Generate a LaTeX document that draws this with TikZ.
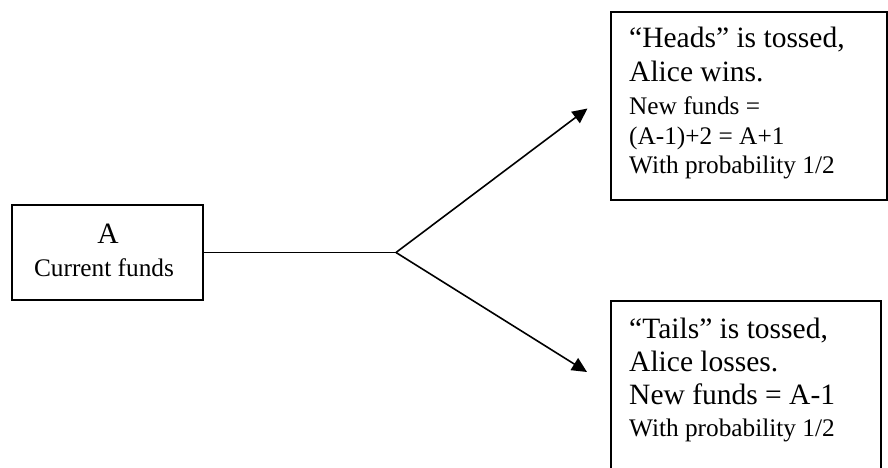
\documentclass[tikz,border=0pt]{standalone}
\usepackage{fontspec}
\setmainfont{Liberation Serif}
\usetikzlibrary{arrows.meta}
\begin{document}
\begin{tikzpicture}[x=1pt,y=-1pt,
  box/.style={draw, line width=2pt, rectangle, inner sep=0pt},
  big/.style={font=\fontsize{29.5}{33}\selectfont, inner sep=0pt},
  small/.style={font=\fontsize{25.3}{29}\selectfont, inner sep=0pt},
  link/.style={line width=1.6pt},
  branch/.style={link, -{Triangle[length=15pt,width=14pt]}}]
\useasboundingbox (0,0) rectangle (888,468);
\clip (0,0) rectangle (888,468);
\fill[white] (0,0) rectangle (888,468);

% starting state
\node[box, minimum width=191pt, minimum height=95pt] (cur) at (107.5,252.5) {};
\node[big, anchor=base] (curA) at (108,243) {A};
\node[small, anchor=base] (curtext) at (104,276) {Current funds};

% outcome: heads
\node[box, minimum width=276pt, minimum height=188pt] (heads) at (749,106) {};
\node[big, anchor=base west] (h1) at (629,48) {“Heads” is tossed,};
\node[big, anchor=base west] (h2) at (629,82) {Alice wins.};
\node[small, anchor=base west] (h3) at (629,114) {New funds =};
\node[small, anchor=base west] (h4) at (629,144) {(A-1)+2 = A+1};
\node[small, anchor=base west] (h5) at (629,173) {With probability 1/2};

% outcome: tails
\node[box, minimum width=270pt, minimum height=179pt] (tails) at (746,390.5) {};
\node[big, anchor=base west] (t1) at (629,338) {“Tails” is tossed,};
\node[big, anchor=base west] (t2) at (629,371) {Alice losses.};
\node[big, anchor=base west] (t3) at (629,404) {New funds = A-1};
\node[small, anchor=base west] (t4) at (629,436) {With probability 1/2};

% branching connectors
\coordinate (fork) at (396,252.5);
\coordinate (headtip) at (587.5,108.5);
\coordinate (tailtip) at (587,372);
\draw[link] (cur.east) -- (fork);
\draw[branch] (fork) -- (headtip);
\draw[branch] (fork) -- (tailtip);
\end{tikzpicture}
\end{document}
